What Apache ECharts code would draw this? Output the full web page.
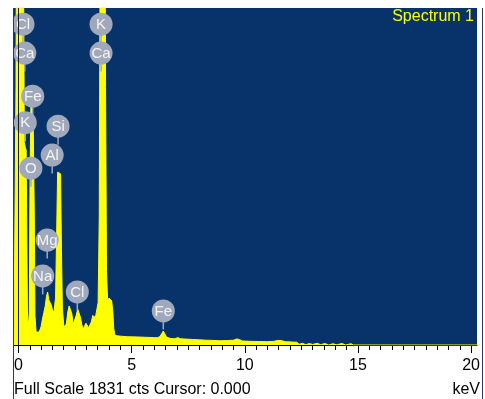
<!DOCTYPE html>
<html>
<head>
<meta charset="utf-8">
<script src="https://cdn.jsdelivr.net/npm/echarts@6/dist/echarts.min.js"></script>
<style>
  html, body { margin: 0; padding: 0; background: #ffffff; overflow: hidden; }
  #chart { width: 483px; height: 399px; }
</style>
</head>
<body>
<div id="chart"></div>
<script>
// EDS spectrum: energy (keV) and counts per channel
const energyKeV = [
  -0.20, -0.13, -0.11, -0.08, -0.04, 0.00, 0.05, 0.10, 0.15, 0.20,
  0.23, 0.26, 0.30, 0.34, 0.37, 0.40, 0.44, 0.48, 0.51, 0.55,
  0.60, 0.65, 0.70, 0.73, 0.78, 0.84, 0.90, 0.95, 1.00, 1.05,
  1.12, 1.18, 1.24, 1.29, 1.34, 1.40, 1.46, 1.52, 1.58, 1.64,
  1.69, 1.73, 1.80, 1.86, 1.90, 1.94, 2.00, 2.06, 2.12, 2.18,
  2.24, 2.30, 2.36, 2.42, 2.48, 2.55, 2.62, 2.68, 2.74, 2.80,
  2.86, 2.92, 2.98, 3.04, 3.10, 3.16, 3.22, 3.28, 3.34, 3.40,
  3.46, 3.52, 3.57, 3.61, 3.66, 3.73, 3.80, 3.85, 3.89, 3.94,
  4.00, 4.06, 4.12, 4.17, 4.21, 4.26, 4.35, 4.50, 4.80, 5.20,
  5.60, 6.00, 6.15, 6.25, 6.33, 6.40, 6.47, 6.55, 6.70, 6.90,
  7.05, 7.15, 7.40, 7.70, 8.00, 8.30, 8.60, 8.90, 9.20, 9.50,
  9.65, 9.75, 9.90, 10.20, 10.60, 11.00, 11.30, 11.45, 11.60, 11.80,
  12.10, 12.30, 12.40, 12.55, 12.70, 12.85, 13.00, 13.20, 13.35, 13.55,
  13.70, 13.90, 14.05, 14.30, 14.45, 14.70, 14.80, 16.00, 18.00, 20.26
];
const counts = [
  0, 0, 1400, 2600, 3100, 3300, 3200, 3000, 2800, 2400,
  1900, 1100, 1075, 1060, 600, 140, 110, 180, 900, 1314,
  1280, 1230, 700, 160, 70, 62, 70, 82, 100, 135,
  175, 210, 265, 288, 245, 240, 215, 175, 190, 260,
  620, 939, 945, 930, 520, 200, 110, 95, 120, 180,
  212, 205, 170, 112, 120, 160, 195, 192, 150, 110,
  87, 95, 118, 108, 95, 98, 125, 160, 168, 150,
  160, 230, 700, 2200, 3300, 3500, 3100, 1400, 400, 240,
  255, 262, 240, 180, 90, 55, 50, 48, 45, 44,
  42, 40, 40, 46, 62, 76, 60, 42, 36, 34,
  40, 34, 32, 30, 28, 26, 25, 23, 24, 26,
  33, 30, 22, 20, 19, 18, 20, 25, 24, 18,
  16, 15, 4, 9, 2, 8, 3, 9, 2, 8,
  0, 7, 1, 8, 0, 7, 0, 0, 0, 0
];

// Element markers: symbol, energy (keV), marker height (counts)
const peakLabels = ['Cl', 'Ca', 'K', 'Ca', 'Fe', 'K', 'Si', 'Al', 'O', 'Mg', 'Na', 'Cl', 'Fe'];
const peakLabelKeV = [0.20, 0.28, 3.65, 3.65, 0.63, 0.30, 1.75, 1.49, 0.55, 1.27, 1.07, 2.60, 6.40];
const peakLabelCounts = [1743, 1586, 1743, 1586, 1352, 1208, 1189, 1032, 961, 570, 375, 288, 185];

const axisTicks = [0, 5, 10, 15, 20];
const fullScaleCts = 1831;
const cursorKeV = 0.0;
const spectrumName = 'Spectrum 1';

const FONT = '"Liberation Sans", Arial, sans-serif';
const X_MIN = -0.197, X_MAX = 20.262;
const GRID = { left: 14, right: 1, top: 8, bottom: 54 };

const minorTicks = [];
for (let v = 0; v <= 20.0001; v += 0.5) minorTicks.push(+v.toFixed(1));

const chart = echarts.init(document.getElementById('chart'), null, { renderer: 'canvas' });

const markerColor = '#a0a9bc';
const R = 11.5, STEM = 7;

chart.setOption({
  animation: false,
  backgroundColor: '#ffffff',
  title: {
    text: spectrumName,
    right: 9, top: 9, padding: 0,
    textStyle: { color: '#ffff00', fontSize: 16, fontWeight: 'normal', fontFamily: FONT }
  },
  grid: {
    left: GRID.left, right: GRID.right, top: GRID.top, bottom: GRID.bottom,
    show: true, backgroundColor: '#07336a', borderWidth: 0
  },
  xAxis: [
    {
      type: 'value', min: X_MIN, max: X_MAX, position: 'bottom',
      axisLine: { show: true, onZero: false, lineStyle: { color: '#000', width: 1 } },
      axisTick: { show: true, customValues: axisTicks, length: 8, lineStyle: { color: '#000' } },
      axisLabel: {
        customValues: axisTicks, margin: 13, color: '#000', fontSize: 16, fontFamily: FONT,
        formatter: v => String(v)
      },
      splitLine: { show: false }
    },
    {
      type: 'value', min: X_MIN, max: X_MAX, position: 'bottom',
      axisLine: { show: false },
      axisTick: { show: true, customValues: minorTicks, length: 5, lineStyle: { color: '#000' } },
      axisLabel: { show: false },
      splitLine: { show: false }
    }
  ],
  yAxis: { type: 'value', min: 0, max: fullScaleCts, show: false, splitLine: { show: false } },
  series: [
    {
      type: 'line',
      xAxisIndex: 0,
      data: energyKeV.map((e, i) => [e, counts[i]]),
      showSymbol: false,
      clip: true,
      lineStyle: { color: '#ffff00', width: 1 },
      areaStyle: { color: '#ffff00', opacity: 1 },
      z: 2
    },
    {
      type: 'custom',
      xAxisIndex: 0,
      coordinateSystem: 'cartesian2d',
      clip: true,
      z: 3,
      data: peakLabels.map((n, i) => [peakLabelKeV[i], peakLabelCounts[i]]),
      renderItem: (params, api) => {
        const p = api.coord([api.value(0), api.value(1)]);
        return {
          type: 'group',
          children: [
            { type: 'line', shape: { x1: p[0], y1: p[1] + R - 1, x2: p[0], y2: p[1] + R + STEM },
              style: { stroke: markerColor, lineWidth: 1.5 } },
            { type: 'circle', shape: { cx: p[0], cy: p[1], r: R },
              style: { fill: markerColor } },
            { type: 'text', x: p[0], y: p[1] + 0.5,
              style: { text: peakLabels[params.dataIndex], align: 'center', verticalAlign: 'middle',
                       fill: '#f4f4f4', font: '15px ' + FONT } }
          ]
        };
      }
    },
    {
      // cursor position marker
      type: 'line',
      xAxisIndex: 0,
      data: [],
      z: 5,
      markLine: {
        silent: true, symbol: 'none', animation: false,
        label: { show: false },
        lineStyle: { color: '#1a1a1a', width: 1, type: 'solid' },
        data: [{ xAxis: cursorKeV }]
      }
    }
  ],
  graphic: [
    { type: 'line', z: 100, shape: { x1: 13.5, y1: 8, x2: 13.5, y2: 399 },
      style: { stroke: '#2a3a5a', lineWidth: 1 } },
    { type: 'line', z: 100, shape: { x1: 482.5, y1: 8, x2: 482.5, y2: 399 },
      style: { stroke: '#2a3a5a', lineWidth: 1 } },
    { type: 'text', left: 14, top: 382, z: 100,
      style: { text: 'Full Scale ' + fullScaleCts + ' cts Cursor: ' + cursorKeV.toFixed(3),
               fill: '#000', font: '16px ' + FONT } },
    { type: 'text', right: 3, top: 382, z: 100,
      style: { text: 'keV', fill: '#000', font: '16px ' + FONT } }
  ]
});
</script>
</body>
</html>
